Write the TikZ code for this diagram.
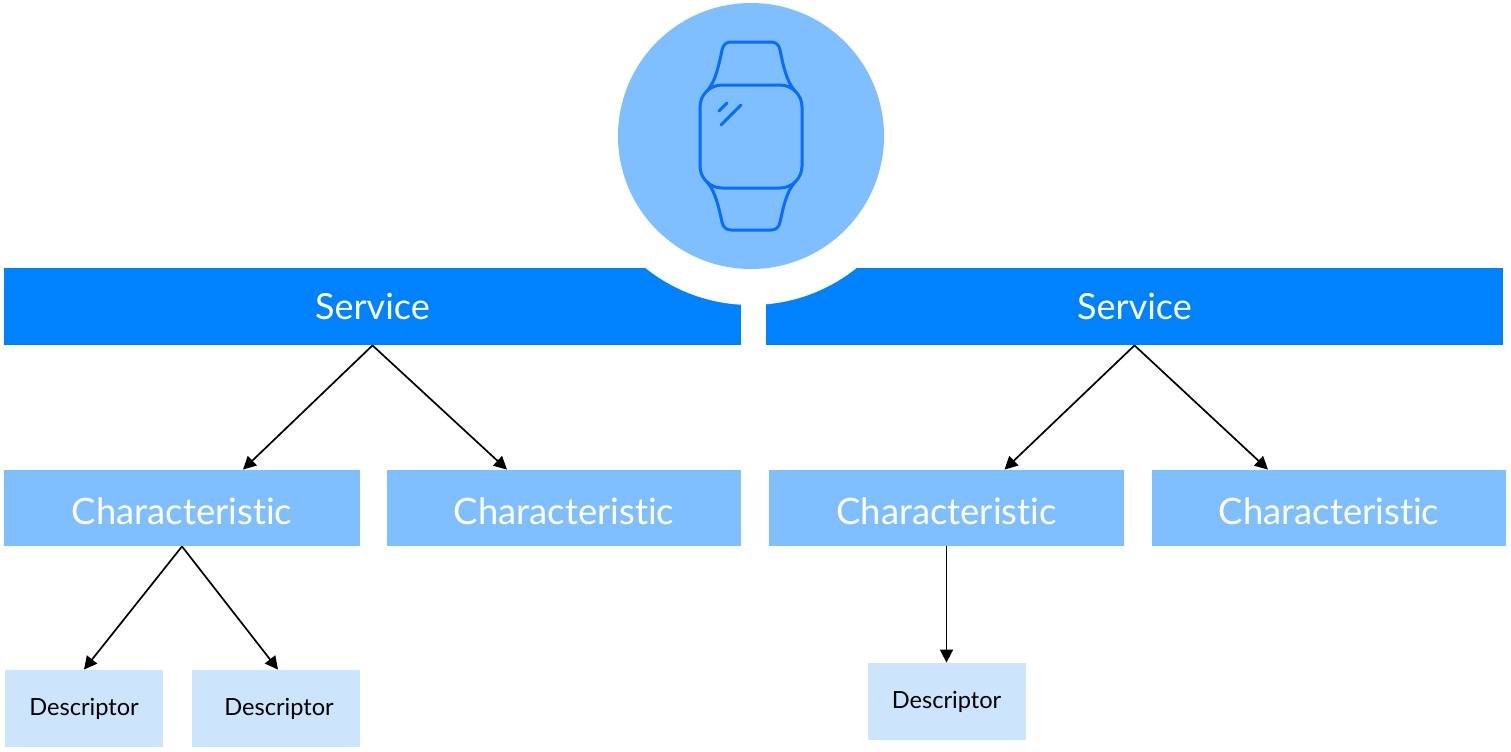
\documentclass[tikz,border=0pt]{standalone}
\usepackage{fontspec}
\setmainfont{Lato}[Ligatures=NoCommon]
\usepackage{xcolor}
\usetikzlibrary{arrows.meta}
\definecolor{srvblue}{HTML}{0082FF}
\definecolor{charblue}{HTML}{80BFFF}
\definecolor{descblue}{HTML}{CCE5FD}
\definecolor{iconblue}{HTML}{0A6CFF}
\tikzset{
	srvbox/.style={fill=srvblue,text=white,inner sep=0pt,minimum width=368.5pt,minimum height=38.5pt,font=\fontsize{18}{22}\selectfont},
	charbox/.style={fill=charblue,text=white,inner sep=0pt,minimum width=177pt,minimum height=38pt,text height=16.6pt,text depth=0pt,font=\fontsize{18.2}{22}\selectfont},
	descbox/.style={fill=descblue,text=black,inner sep=0pt,minimum width=79pt,minimum height=38.5pt,text height=10pt,text depth=2.7pt,font=\fontsize{11.8}{14}\selectfont},
	link/.style={black,line width=0.85pt,-{Stealth[inset=0pt,length=6.5pt,width=6.5pt]}},
	watch/.style={iconblue,line width=1.5pt,line cap=round,line join=round}
}

\begin{document}
\begin{tikzpicture}[x=0.5pt,y=-0.5pt]
	\useasboundingbox (0,0) rectangle (1511,751);
	
	% Services
	\node[srvbox] (srvA) at (372.5,306.5) {Service};
	\node[srvbox] (srvB) at (1134.5,306.5) {Service};
	
	% Device
	\fill[white] (751,136) circle[radius=169];
	\node[circle,fill=charblue,inner sep=0pt,minimum size=133pt] (device) at (751,136) {};
	\fill[white] (741,300) rectangle (766,346);
	
	% Watch
	\draw[watch,rounded corners=11pt] (700,85) rectangle (802,188);
	\draw[watch] (707,91) .. controls (716,81) and (719,64) .. (722,50)
		.. controls (723,44) and (727,42) .. (731,42) -- (771,42)
		.. controls (775,42) and (779,44) .. (780,50)
		.. controls (783,64) and (786,81) .. (795,91);
	\draw[watch] (707,182) .. controls (716,192) and (719,209) .. (722,222)
		.. controls (723,228) and (727,230) .. (731,230) -- (771,230)
		.. controls (775,230) and (779,228) .. (780,222)
		.. controls (783,209) and (786,192) .. (795,182);
	\draw[watch] (719,111) -- (727,103);
	\draw[watch] (721,125) -- (741,105);
	
	% Characteristics
	\node[charbox,minimum width=178pt] (charA) at (182,508) {Characteristic};
	\node[charbox] (charB) at (564,508) {Characteristic};
	\node[charbox,minimum width=177.5pt] (charC) at (946.5,508) {Characteristic};
	\node[charbox] (charD) at (1329,508) {Characteristic};
	
	% Descriptors
	\node[descbox] (descA) at (84,708.5) {Descriptor};
	\node[descbox,minimum width=84pt] (descB) at (276,708.5) {\hspace{3pt}Descriptor};
	\node[descbox] (descC) at (946.5,701.5) {Descriptor};
	
	% Links
	\draw[link] (srvA.south) -- ([xshift=30.5pt]charA.north);
	\draw[link] (srvA.south) -- ([xshift=-28.5pt]charB.north);
	\draw[link] (srvB.south) -- ([xshift=29pt]charC.north);
	\draw[link] (srvB.south) -- ([xshift=-30.5pt]charD.north);
	\draw[link] (charA.south) -- (descA.north);
	\draw[link] (charA.south) -- ([xshift=1pt]descB.north);
	\draw[link] (charC.south) -- (descC.north);
	
\end{tikzpicture}
\end{document}
